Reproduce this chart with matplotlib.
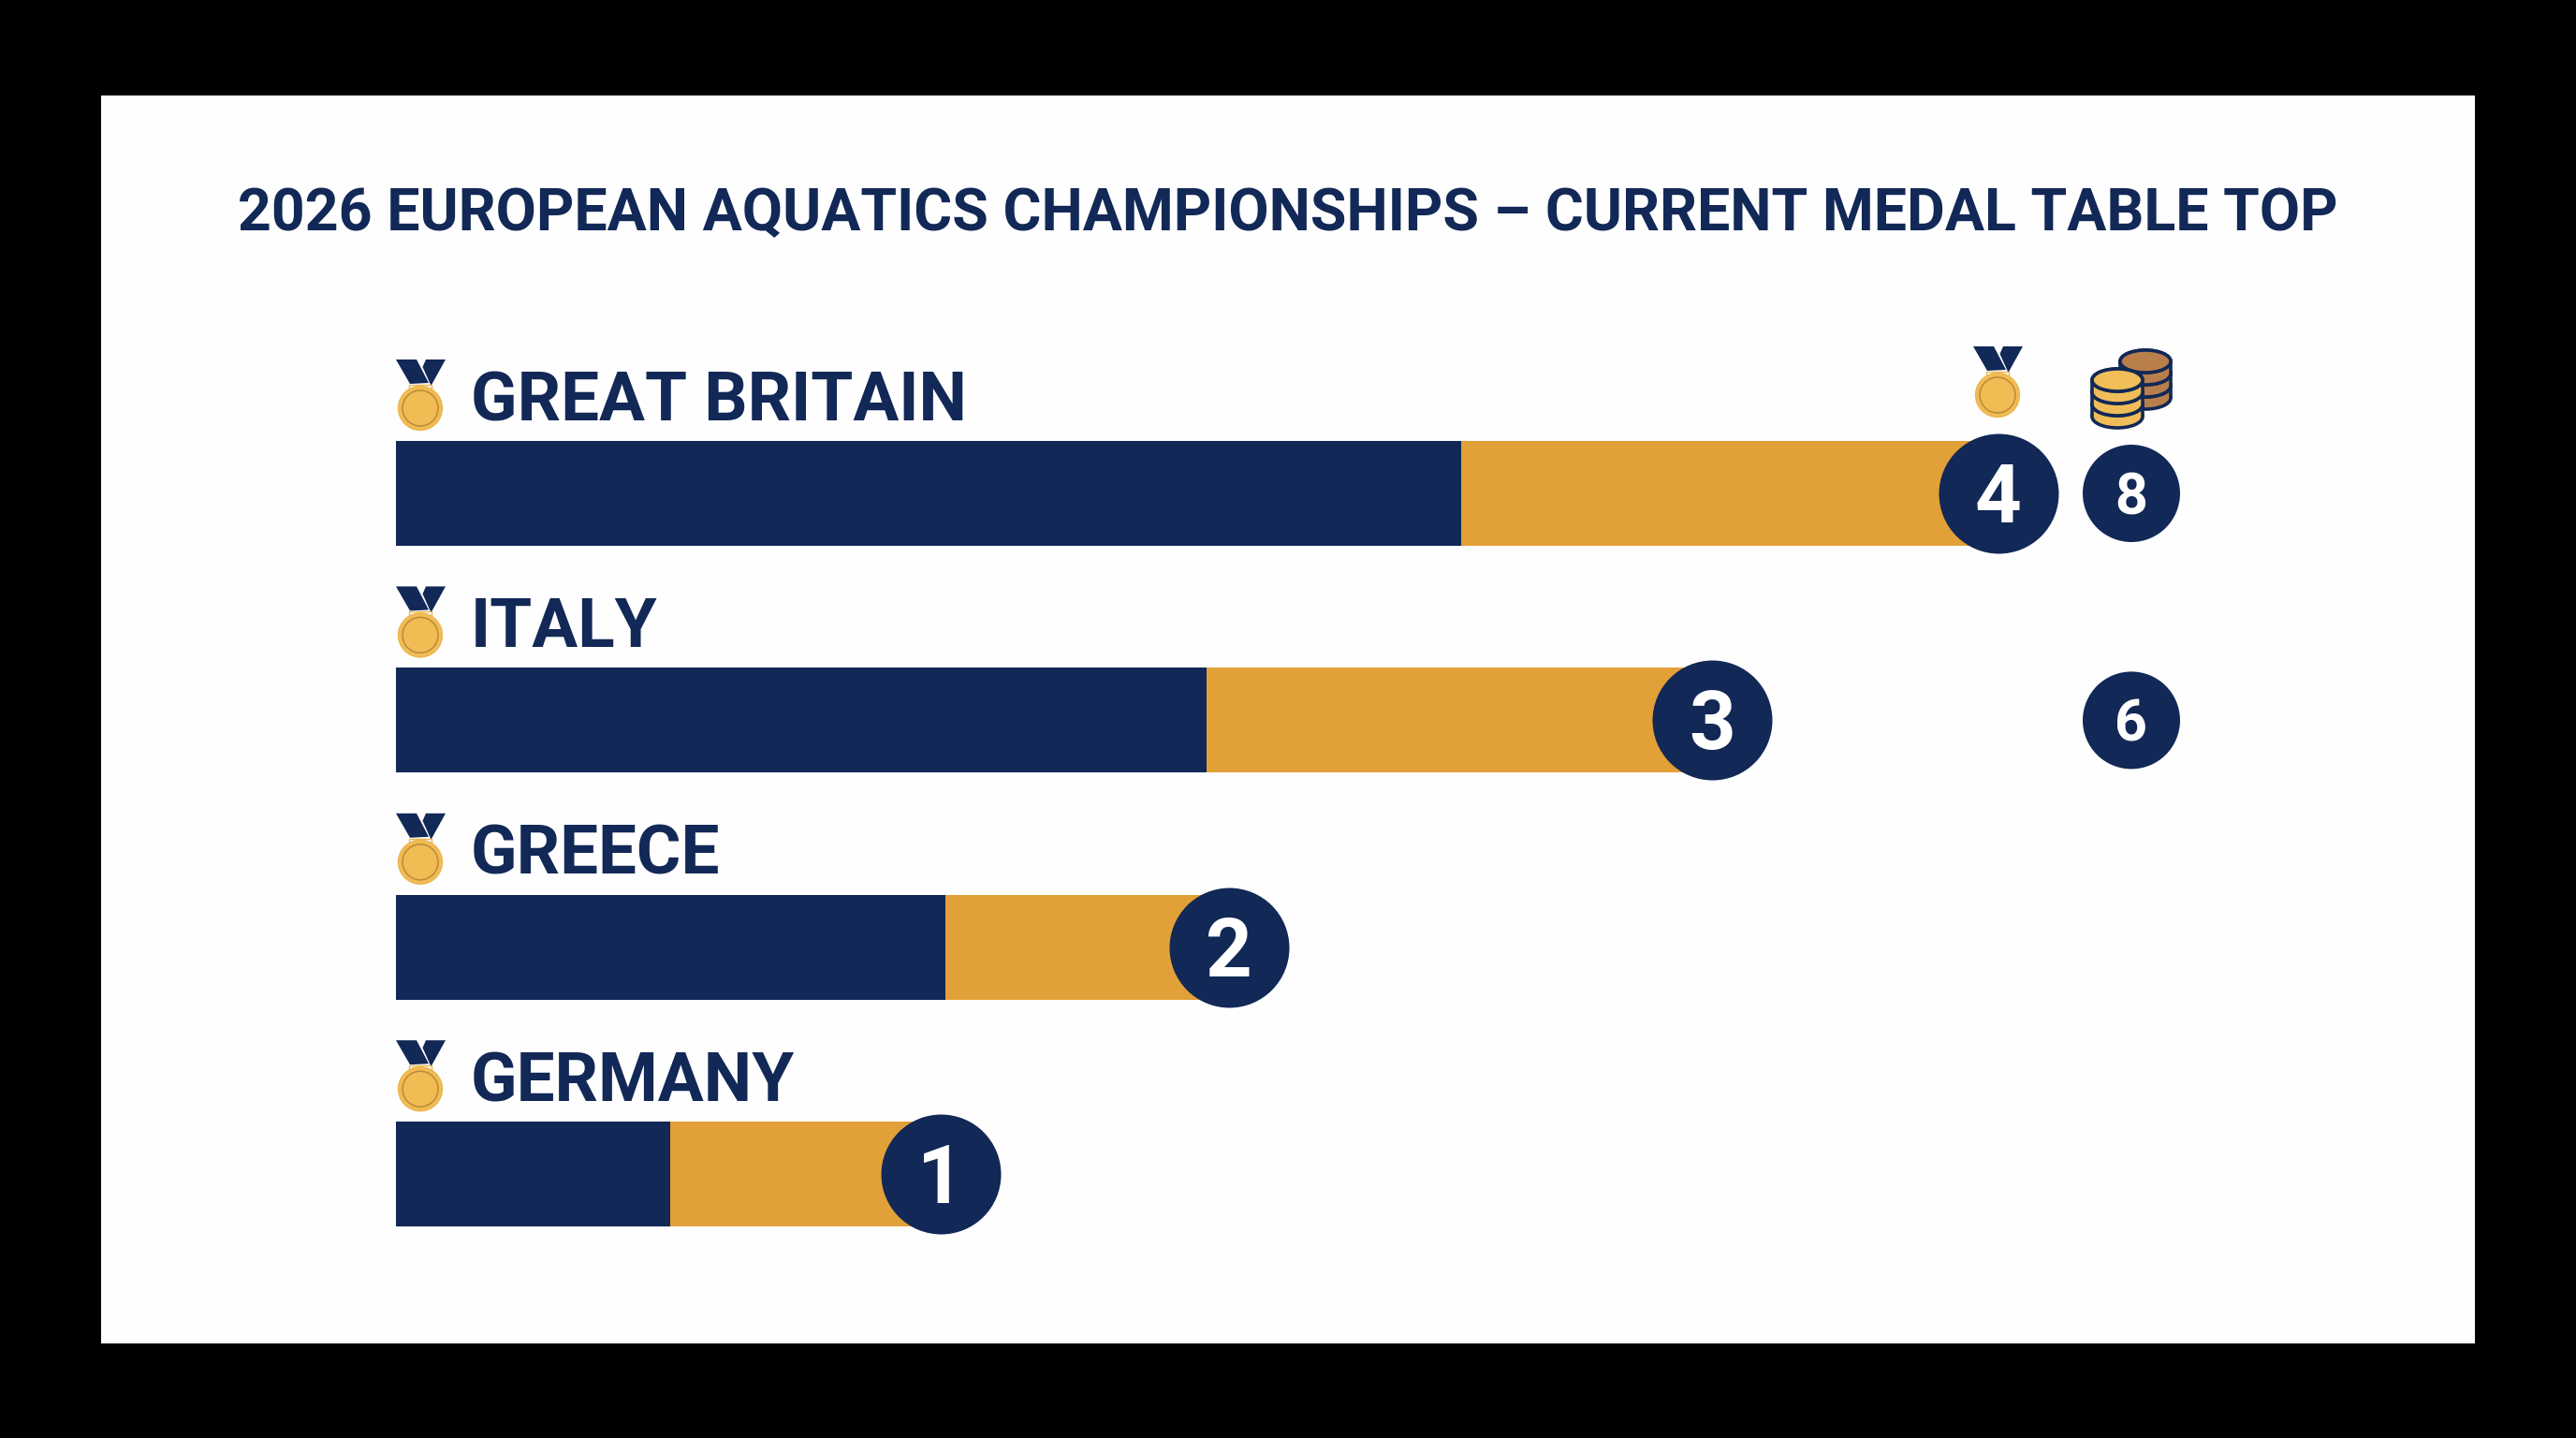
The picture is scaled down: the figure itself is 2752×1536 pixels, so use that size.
import matplotlib
matplotlib.use("Agg")
import matplotlib.pyplot as plt
from matplotlib.patches import Rectangle, Circle, Polygon, Ellipse

# data
countries = ["GREAT BRITAIN", "ITALY", "GREECE", "GERMANY"]
navy_part = [2.66, 2.024, 1.372, 0.685]
gold_part = [1.34, 1.261, 0.708, 0.675]
medals = [4, 3, 2, 1]
extra_labels = ["8", "6", "", ""]
title = "2026 EUROPEAN AQUATICS CHAMPIONSHIPS \u2013 CURRENT MEDAL TABLE TOP"

W, H = 2752, 1536
NAVY = "#122856"
GOLD = "#E2A038"
row_step = 242.4
row_top = 527
bar_left = 423
unit = 428  # pixels per value unit
PT = 72 / 100  # pixels to points at dpi 100

plt.rcParams["font.family"] = ["Roboto", "DejaVu Sans"]
fig = plt.figure(figsize=(W / 100, H / 100), dpi=100, facecolor="black")

# page background, in pixels
bg = fig.add_axes([0, 0, 1, 1], zorder=0)
bg.set_xlim(0, W)
bg.set_ylim(H, 0)
bg.axis("off")
bg.add_patch(Rectangle((108, 102), 2536, 1333, fc="#FEFEFE", ec="none"))
bg.text(1376, 246, title, ha="center", va="baseline", fontsize=45.1, fontweight="bold", color=NAVY)


def draw_medal(a, cx, cy):
    # cy = centre of the disc
    a.add_patch(Polygon([(cx - 26, cy - 52), (cx - 4, cy - 52), (cx + 9, cy - 27), (cx - 11, cy - 26)],
                        fc=NAVY, ec="none"))
    a.add_patch(Polygon([(cx + 6, cy - 52), (cx + 27, cy - 52), (cx + 11.5, cy - 24), (cx + 2.5, cy - 44)],
                        fc=NAVY, ec="none"))
    a.add_patch(Rectangle((cx - 12, cy - 25), 24, 6, fc="#FEFEFE", ec="#E8B654", lw=1))
    a.add_patch(Circle((cx, cy), 23.5, fc="#F2BC55", ec="#EDB64F", lw=1))
    a.add_patch(Circle((cx, cy), 19, fc="none", ec="#BE8E38", lw=1.2))


def draw_coin_stack(a, cx, top, rx, ry, n, step, top_col, side_col):
    lw = 3.6 * PT
    for k in range(n, 0, -1):
        y = top + k * step
        a.add_patch(Ellipse((cx, y), 2 * rx, 2 * ry, fc=side_col, ec=NAVY, lw=lw))
        a.add_patch(Rectangle((cx - rx, y - step), 2 * rx, step, fc=side_col, ec="none"))
        a.plot([cx - rx, cx - rx], [y - step, y], color=NAVY, lw=lw, solid_capstyle="butt", zorder=1)
        a.plot([cx + rx, cx + rx], [y - step, y], color=NAVY, lw=lw, solid_capstyle="butt", zorder=1)
        a.add_patch(Ellipse((cx, y - step), 2 * rx, 2 * ry, fc=side_col, ec=NAVY, lw=lw))
    a.add_patch(Ellipse((cx, top), 2 * rx, 2 * ry, fc=top_col, ec=NAVY, lw=lw))


# bars, on their own axes, value 0 at the bar start
ax = fig.add_axes([bar_left / W, 0, unit * 4 / W, 1], zorder=1)
ax.set_xlim(0, 4)
ax.set_ylim((H - row_top) / row_step, -row_top / row_step)
ax.axis("off")
ax.patch.set_alpha(0)
ypos = list(range(len(countries)))
totals = [a + b for a, b in zip(navy_part, gold_part)]
ax.barh(ypos, navy_part, height=112 / row_step, color=NAVY)
ax.barh(ypos, gold_part, left=navy_part, height=112 / row_step, color=GOLD)
ax.scatter(totals, ypos, s=(128 * PT) ** 2, color=NAVY, linewidths=0, clip_on=False, zorder=3)
for t, y, m in zip(totals, ypos, medals):
    ax.annotate(str(m), (t, y), xytext=(0, -31 * PT), textcoords="offset points", ha="center", va="baseline",
                fontsize=62.5, fontweight="bold", color="white", zorder=4)

# icons and labels, in pixels
ov = fig.add_axes([0, 0, 1, 1], zorder=2)
ov.set_xlim(0, W)
ov.set_ylim(H, 0)
ov.axis("off")
ov.patch.set_alpha(0)
for i, name in enumerate(countries):
    yc = row_top + i * row_step
    draw_medal(ov, 449, yc - 91)
    ov.text(503, yc - 78, name, ha="left", va="baseline", fontsize=52.4, fontweight="bold", color=NAVY)
    if extra_labels[i]:
        ov.add_patch(Circle((2277, yc), 52, fc=NAVY, ec="none"))
        ov.text(2277, yc + 22, extra_labels[i], ha="center", va="baseline", fontsize=44,
                fontweight="bold", color="white")

draw_medal(ov, 2134, 422)
draw_coin_stack(ov, 2292, 386, 27, 12, 3, 13, "#B97F4B", "#B97F4B")
draw_coin_stack(ov, 2262, 406, 27, 12, 3, 13, "#F0BD58", "#F0BD58")

fig.savefig("out.png", dpi=100, facecolor="black")
